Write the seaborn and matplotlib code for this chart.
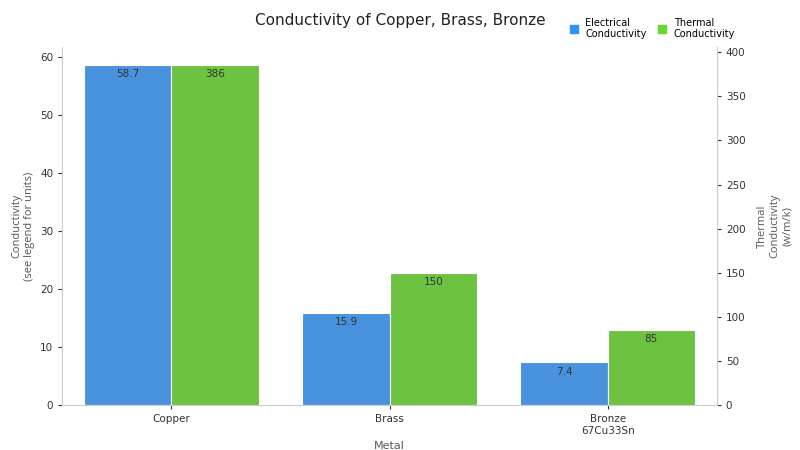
import matplotlib
matplotlib.use("Agg")
import matplotlib.pyplot as plt
import seaborn as sns
import pandas as pd
from matplotlib.patches import Patch

metals = ["Copper", "Brass", "Bronze\n67Cu33Sn"]
electrical = [58.7, 15.9, 7.4]
thermal = [386, 150, 85]
series = ["Electrical\nConductivity", "Thermal\nConductivity"]
colors = ["#3091F7", "#66D92B"]

df1 = pd.DataFrame({"Metal": metals * 2, "s": [series[0]] * 3 + [series[1]] * 3,
                    "v": electrical + [0] * 3})
df2 = pd.DataFrame({"Metal": metals * 2, "s": [series[0]] * 3 + [series[1]] * 3,
                    "v": [0] * 3 + thermal})

fig = plt.figure(figsize=(8, 4.5), dpi=100)
ax = fig.add_axes([0.078, 0.1, 0.818, 0.795])
ax2 = ax.twinx()
pal = dict(zip(series, colors))
sns.barplot(data=df1, x="Metal", y="v", hue="s", palette=pal, ax=ax, width=0.8,
            edgecolor="white", linewidth=0.8, legend=False)
sns.barplot(data=df2, x="Metal", y="v", hue="s", palette=pal, ax=ax2, width=0.8,
            edgecolor="white", linewidth=0.8, legend=False)

ax.set_xlim(-0.5, 2.5)
ax.set_ylim(0, 61.7)
ax2.set_ylim(0, 405.7)
ax.set_yticks(range(0, 61, 10))
ax2.set_yticks(range(0, 401, 50))

for i, v in enumerate(electrical):
    ax.text(i - 0.2, v - 0.8, f"{v}", ha="center", va="top", fontsize=7.5, color="#333333")
for i, v in enumerate(thermal):
    ax2.text(i + 0.2, v - 5, f"{v}", ha="center", va="top", fontsize=7.5, color="#333333")

for a in (ax, ax2):
    for sp in a.spines.values():
        sp.set_visible(False)
    a.tick_params(labelsize=7.5, colors="#333333", length=3)
ax.spines["left"].set_visible(True)
ax.spines["bottom"].set_visible(True)
ax2.spines["right"].set_visible(True)
for sp in (ax.spines["left"], ax.spines["bottom"], ax2.spines["right"]):
    sp.set_color("#cccccc")

ax.set_xlabel("Metal", fontsize=8, color="#555555")
ax.set_ylabel("Conductivity\n(see legend for units)", fontsize=8, color="#555555",
              fontfamily="Open Sans")
ax2.set_ylabel("Thermal\nConductivity\n(w/m/k)", fontsize=8, color="#555555",
               fontfamily="Open Sans", rotation=90, labelpad=8)
fig.text(0.5, 0.945, "Conductivity of Copper, Brass, Bronze", ha="center",
         fontsize=11, color="#222222")
handles = [Patch(color=c, label=s) for c, s in zip(colors, series)]
fig.legend(handles=handles, loc="upper right", bbox_to_anchor=(0.93, 0.98), ncol=2,
           frameon=False, fontsize=7, handlelength=0.8, handleheight=0.8,
           columnspacing=1.2)
fig.savefig("out.png", dpi=100)
